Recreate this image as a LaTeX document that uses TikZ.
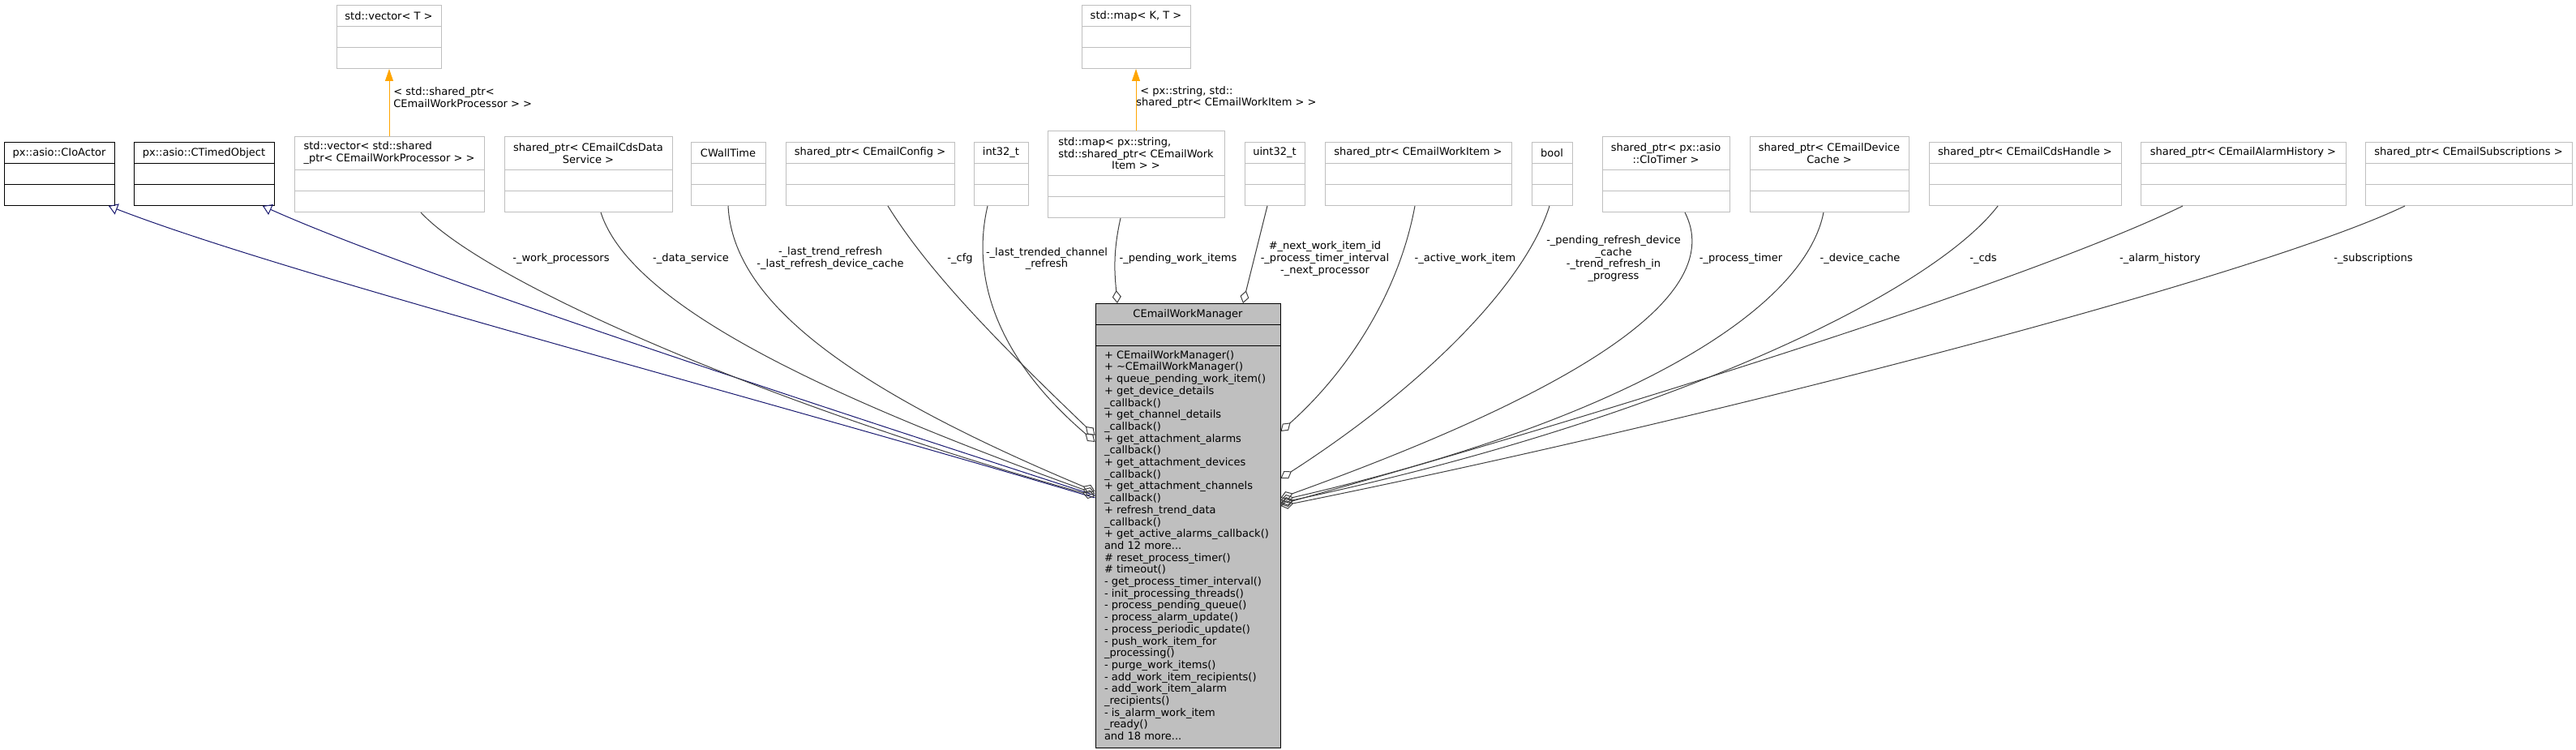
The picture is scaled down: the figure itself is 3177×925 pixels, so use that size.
\documentclass[tikz,border=0pt]{standalone}
\usepackage{fontspec}
\setmainfont{DejaVu Sans}
\usetikzlibrary{arrows.meta,shapes.multipart}

\definecolor{edgegray}{HTML}{404040}
\definecolor{boxgray}{HTML}{BFBFBF}
\definecolor{inhblue}{HTML}{191970}
\definecolor{tmplorange}{HTML}{FFA500}

%% title row of a class box: height, width, text
\newcommand{\clsname}[3]{\parbox[c][#1][c]{#2}{\centering #3}}

\tikzset{
  cls/.style={rectangle split, rectangle split parts=3, draw=boxgray, line width=0.5pt,
    inner sep=0pt, rectangle split empty part height=12.5pt,
    rectangle split empty part depth=0pt, anchor=north},
  basecls/.style={cls, draw=black},
  member/.style={draw=edgegray, line width=0.5pt, arrows={Diamond[open,length=8pt,width=5.5pt]-}},
  inherit/.style={draw=inhblue, line width=0.5pt, arrows={-Triangle[open,length=5.5pt,width=7pt]}},
  tmpl/.style={draw=tmplorange, line width=0.5pt, arrows={-Triangle[length=7.5pt,width=5pt]}},
  lbl/.style={inner sep=0pt, align=center},
}

\begin{document}
\begin{tikzpicture}[x=0.5pt,y=-0.5pt,every node/.style={font=\fontsize{6.5pt}{7.35pt}\selectfont}]
        \useasboundingbox (0,0) rectangle (3177,925);
        %% templates
        \node[cls] (tvec) at (479.5,6) {\clsname{12.5pt}{64.5pt}{std::vector< T >}};
        \node[cls] (tmap) at (1401,6) {\clsname{12.5pt}{67pt}{std::map< K, T >}};
        %% base classes and members
        \node[basecls] (actor) at (73,175) {\clsname{12.5pt}{68pt}{px::asio::CIoActor}};
        \node[basecls] (timed) at (251.5,175) {\clsname{12.5pt}{86.5pt}{px::asio::CTimedObject}};
        \node[cls] (vecsp) at (480,168) {\clsname{20pt}{117pt}{\begin{tabular}{@{}l@{}}std::vector< std::shared\\\_ptr< CEmailWorkProcessor > >\end{tabular}}};
        \node[cls] (cdsdata) at (725.5,168) {\clsname{20pt}{103.5pt}{shared\_ptr< CEmailCdsData\\Service >}};
        \node[cls] (walltime) at (898,175) {\clsname{12.5pt}{46pt}{CWallTime}};
        \node[cls] (config) at (1073,175) {\clsname{12.5pt}{104pt}{shared\_ptr< CEmailConfig >}};
        \node[cls] (int32) at (1234.5,175) {\clsname{12.5pt}{33.5pt}{int32\_t}};
        \node[cls] (mapsp) at (1401,161) {\clsname{27pt}{109pt}{\begin{tabular}[b]{@{}l@{}}std::map< px::string,\\std::shared\_ptr< CEmailWork\end{tabular}\\Item > >}};
        \node[cls] (uint32) at (1572,175) {\clsname{12.5pt}{37pt}{uint32\_t}};
        \node[cls] (workitem) at (1749,175) {\clsname{12.5pt}{115pt}{shared\_ptr< CEmailWorkItem >}};
        \node[cls] (bool) at (1914,175) {\clsname{12.5pt}{25pt}{bool}};
        \node[cls] (timer) at (2054.5,168) {\clsname{20pt}{78.5pt}{shared\_ptr< px::asio\\::CIoTimer >}};
        \node[cls] (devcache) at (2256,168) {\clsname{20pt}{98pt}{shared\_ptr< CEmailDevice\\Cache >}};
        \node[cls] (cdshandle) at (2497.5,175) {\clsname{12.5pt}{118.5pt}{shared\_ptr< CEmailCdsHandle >}};
        \node[cls] (alarmhist) at (2766.5,175) {\clsname{12.5pt}{126.5pt}{shared\_ptr< CEmailAlarmHistory >}};
        \node[cls] (subs) at (3044.5,175) {\clsname{12.5pt}{127.5pt}{shared\_ptr< CEmailSubscriptions >}};
        %% the manager
        \node[cls, draw=black, fill=boxgray] (mgr) at (1465,374) {\clsname{12.5pt}{114pt}{CEmailWorkManager}%
          \nodepart{three}\parbox[c][247.5pt][c]{114pt}{\hspace*{5.5pt}\begin{tabular}{@{}l@{}}
            + CEmailWorkManager()\\
            + \textasciitilde CEmailWorkManager()\\
            + queue\_pending\_work\_item()\\
            + get\_device\_details\\
            \_callback()\\
            + get\_channel\_details\\
            \_callback()\\
            + get\_attachment\_alarms\\
            \_callback()\\
            + get\_attachment\_devices\\
            \_callback()\\
            + get\_attachment\_channels\\
            \_callback()\\
            + refresh\_trend\_data\\
            \_callback()\\
            + get\_active\_alarms\_callback()\\
            and 12 more...\\
            \# reset\_process\_timer()\\
            \# timeout()\\
            - get\_process\_timer\_interval()\\
            - init\_processing\_threads()\\
            - process\_pending\_queue()\\
            - process\_alarm\_update()\\
            - process\_periodic\_update()\\
            - push\_work\_item\_for\\
            \_processing()\\
            - purge\_work\_items()\\
            - add\_work\_item\_recipients()\\
            - add\_work\_item\_alarm\\
            \_recipients()\\
            - is\_alarm\_work\_item\\
            \_ready()\\
            and 18 more...
          \end{tabular}}};
        %% template arrows
        \draw[tmpl] (vecsp.north) -- (vecsp.north |- tvec.south);
        \draw[tmpl] (mapsp.north) -- (mapsp.north |- tmap.south);
        \node[lbl, anchor=west, align=left] (lvec) at (485,120) {< std::shared\_ptr<\\CEmailWorkProcessor > >};
        \node[lbl, anchor=west, align=left] (lmap) at (1401,120) {\hspace*{2.5pt}< px::string, std::\\shared\_ptr< CEmailWorkItem > >};
        %% inheritance
        \draw[inherit] ([yshift=-120pt]mgr.north west) .. controls +(-451,-134) and +(216,84) .. ([xshift=30.5pt]actor.south);
        \draw[inherit] ([yshift=-118.5pt]mgr.north west) .. controls +(-401,-130) and +(176,79) .. ([xshift=36.25pt]timed.south);
        %% members, left
        \draw[member] ([yshift=-119pt]mgr.north west) .. controls +(-401,-112) and +(81,87) .. ([xshift=19.5pt]vecsp.south);
        \draw[member] ([yshift=-117.5pt]mgr.north west) .. controls +(-301,-109) and +(39,122) .. ([xshift=7.75pt]cdsdata.south);
        \draw[member] ([yshift=-116pt]mgr.north west) .. controls +(-301,-126) and +(6,119) .. (walltime.south);
        \draw[member] ([yshift=-81.5pt]mgr.north west) .. controls +(-101,-97) and +(55,89) .. ([xshift=11pt]config.south);
        \draw[member] ([yshift=-85.5pt]mgr.north west) .. controls +(-111,-95) and +(-23,99) .. ([xshift=-8.25pt]int32.south);
        %% members, top
        \draw[member] ([xshift=-43.5pt]mgr.north) .. controls +(-3,-34) and +(-10,44) .. ([xshift=-9.5pt]mapsp.south);
        \draw[member] ([xshift=34pt]mgr.north) -- ([xshift=-4.5pt]uint32.south);
        %% members, right
        \draw[member] ([yshift=-79pt]mgr.north east) .. controls +(81,-72) and +(-20,109) .. ([xshift=-2pt]workitem.south);
        \draw[member] ([yshift=-108pt]mgr.north east) .. controls +(171,-110) and +(-31,99) .. ([xshift=-1.5pt]bool.south);
        \draw[member] ([yshift=-120pt]mgr.north east) .. controls +(371,-134) and +(52,102) .. ([xshift=11.75pt]timer.south);
        \draw[member] ([yshift=-121.5pt]mgr.north east) .. controls +(421,-97) and +(-24,122) .. ([xshift=-3.5pt]devcache.south);
        \draw[member] ([yshift=-123pt]mgr.north east) .. controls +(471,-100) and +(-84,109) .. ([xshift=-16.75pt]cdshandle.south);
        \draw[member] ([yshift=-124pt]mgr.north east) .. controls +(471,-132) and +(-172,84) .. ([xshift=-37.25pt]alarmhist.south);
        \draw[member] ([yshift=-125pt]mgr.north east) .. controls +(521,-105) and +(-186,89) .. ([xshift=-39.25pt]subs.south);
        %% labels
        \node[lbl] (lwork) at (692,319) {-\_work\_processors};
        \node[lbl] (ldata) at (852,319) {-\_data\_service};
        \node[lbl] (lwall) at (1024,318.5) {-\_last\_trend\_refresh\\-\_last\_refresh\_device\_cache};
        \node[lbl] (lcfg) at (1184,319) {-\_cfg};
        \node[lbl] (lint) at (1291,319) {-\_last\_trended\_channel\\\_refresh};
        \node[lbl] (lpend) at (1453,319) {-\_pending\_work\_items};
        \node[lbl] (luint) at (1634,319) {\#\_next\_work\_item\_id\\-\_process\_timer\_interval\\-\_next\_processor};
        \node[lbl] (lactive) at (1807,319) {-\_active\_work\_item};
        \node[lbl] (lbool) at (1990,319) {-\_pending\_refresh\_device\\\_cache\\-\_trend\_refresh\_in\hspace*{28pt}\\\_progress};
        \node[lbl] (ltimer) at (2147,319) {-\_process\_timer};
        \node[lbl] (ldev) at (2294,319) {-\_device\_cache};
        \node[lbl] (lcds) at (2446,319) {-\_cds};
        \node[lbl] (lalarm) at (2664,319) {-\_alarm\_history};
        \node[lbl] (lsubs) at (2927,319) {-\_subscriptions};
    \end{tikzpicture}
\end{document}
